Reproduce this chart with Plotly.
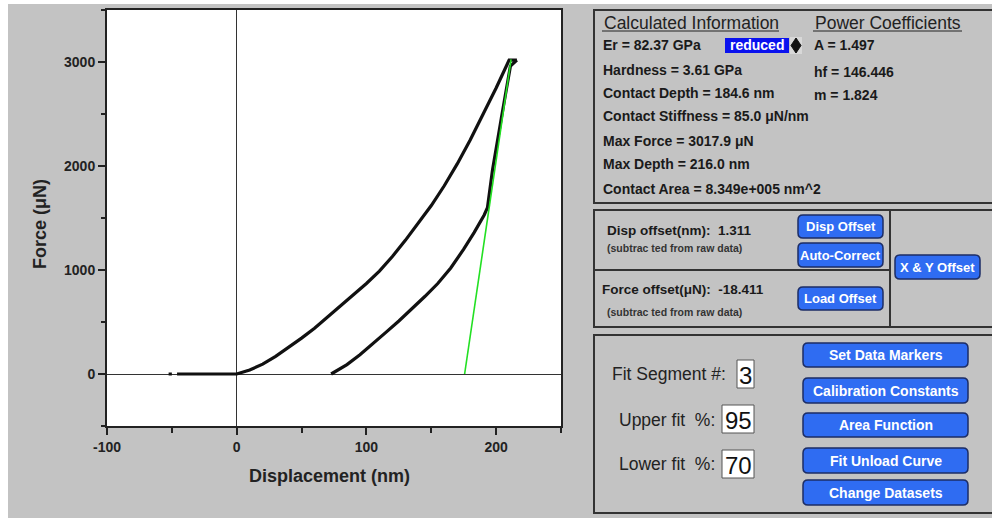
import plotly.graph_objects as go

W, H = 992, 518

# ---------------- data ----------------
pre_x = [-52.5, -50.0]
pre_f = [0, 0]

loading_x = [-46, -20, 0, 10, 20, 30, 40, 50, 60, 70, 80, 90, 100, 110, 120, 130, 140,
             150, 160, 170, 180, 190, 200, 210, 216]
loading_f = [0, 0, 0, 38, 95, 170, 255, 345, 440, 545, 650, 760, 870, 990, 1130, 1285, 1450,
             1620, 1810, 2020, 2250, 2500, 2750, 3018, 3018]

unloading_x = [216, 211, 204, 197.2, 193.3, 190.8, 183, 175, 165, 155, 145, 135, 125,
               115, 105, 95, 85, 78, 72.8]
unloading_f = [3018, 2960, 2460, 1962, 1600, 1529, 1360, 1200, 1020, 870, 745, 625, 510,
               400, 290, 185, 90, 35, 0]

fit_x = [175.7, 211.5]
fit_f = [0, 3025]

x_ticks = [-100, 0, 100, 200]
x_ticklabels = ["-100", "0", "100", "200"]
y_ticks = [0, 1000, 2000, 3000]
y_ticklabels = ["0", "1000", "2000", "3000"]

calc_lines = ["Er = 82.37 GPa", "Hardness = 3.61 GPa", "Contact Depth = 184.6 nm",
              "Contact Stiffness = 85.0 \u03bcN/nm", "Max Force = 3017.9 \u03bcN",
              "Max Depth = 216.0 nm", "Contact Area = 8.349e+005 nm^2"]
power_lines = ["A = 1.497", "hf = 146.446", "m = 1.824"]

# ---------------- figure ----------------
GRAY = "#c3c3c3"
FONT = "Liberation Sans"
NB = "\u00a0"
fig = go.Figure()

fig.add_trace(go.Scatter(x=pre_x, y=pre_f, mode="lines",
                         line=dict(color="#111", width=3), hoverinfo="skip"))
fig.add_trace(go.Scatter(x=loading_x, y=loading_f, mode="lines",
                         line=dict(color="#111", width=3.2), hoverinfo="skip"))
fig.add_trace(go.Scatter(x=unloading_x, y=unloading_f, mode="lines",
                         line=dict(color="#111", width=3.2), hoverinfo="skip"))
fig.add_trace(go.Scatter(x=fit_x, y=fit_f, mode="lines",
                         line=dict(color="#22e022", width=1.6), hoverinfo="skip"))


def px(x):
    return x / W


def py(y):
    return 1 - y / H


shapes = []
annotations = []


def rect(x0, y0, x1, y1, fill=None, line="#333", lw=2):
    shapes.append(dict(type="rect", xref="paper", yref="paper",
                       x0=px(x0), x1=px(x1), y0=py(y1), y1=py(y0),
                       fillcolor=fill if fill else "rgba(0,0,0,0)",
                       line=dict(color=line, width=lw)))


def hline(x0, x1, y, color="#333", lw=2):
    shapes.append(dict(type="line", xref="paper", yref="paper",
                       x0=px(x0), x1=px(x1), y0=py(y), y1=py(y),
                       line=dict(color=color, width=lw)))


def vline(x, y0, y1, color="#333", lw=2):
    shapes.append(dict(type="line", xref="paper", yref="paper",
                       x0=px(x), x1=px(x), y0=py(y0), y1=py(y1),
                       line=dict(color=color, width=lw)))


def text(x, y, s, size=14, bold=True, color="#1a1a1a", anchor="left", angle=0):
    annotations.append(dict(x=px(x), y=py(y), xref="paper", yref="paper",
                            text=s, showarrow=False, xanchor=anchor, yanchor="middle",
                            textangle=angle,
                            font=dict(family=FONT, size=size, color=color,
                                      weight="bold" if bold else "normal")))


def button(x0, y0, x1, y1, label, size=14):
    r = 5
    X0, X1 = px(x0), px(x1)
    Y0, Y1 = py(y1), py(y0)
    rx, ry = r / W, r / H
    path = (f"M {X0+rx},{Y0} L {X1-rx},{Y0} Q {X1},{Y0} {X1},{Y0+ry} "
            f"L {X1},{Y1-ry} Q {X1},{Y1} {X1-rx},{Y1} L {X0+rx},{Y1} "
            f"Q {X0},{Y1} {X0},{Y1-ry} L {X0},{Y0+ry} Q {X0},{Y0} {X0+rx},{Y0} Z")
    shapes.append(dict(type="path", xref="paper", yref="paper", path=path,
                       fillcolor="#2f6cf2", line=dict(color="#1c2d66", width=1.5)))
    text((x0 + x1) / 2, (y0 + y1) / 2, label, size=size, bold=True, color="white",
         anchor="center")


def inputbox(x0, y0, x1, y1, val):
    rect(x0, y0, x1, y1, fill="white", line="#555", lw=1)
    text((x0 + x1) / 2, (y0 + y1) / 2 + 1, val, size=24, bold=False, color="#111",
         anchor="center")


# white outer strip
rect(0, 0, 8, H, fill="white", line="white", lw=0)
rect(0, 0, W, 4, fill="white", line="white", lw=0)

# axis titles
text(329, 476, "Displacement (nm)", size=18, anchor="center", color="#222")
text(40, 224, "Force (\u03bcN)", size=18, anchor="center", color="#222", angle=-90)

# ---- panel 1 ----
rect(594, 10, 996, 203)
text(602, 23, "Calculated Information", size=17.5, bold=False, color="#222")
hline(602, 779, 31, color="#222", lw=1)
text(813, 23, "Power Coefficients", size=17.5, bold=False, color="#222")
hline(813, 962, 31, color="#222", lw=1)
calc_y = [45, 70, 93, 116, 141, 164, 189]
for yy, s in zip(calc_y, calc_lines):
    text(601, yy, s)
power_y = [45, 72, 95]
for yy, s in zip(power_y, power_lines):
    text(812, yy, s)
rect(725, 38, 789, 53, fill="#0a12ee", line="#0a12ee", lw=0)
text(757, 45.5, "reduced", size=14, color="white", anchor="center")
rect(790, 37, 802, 54, fill="#d8d8d8", line="#d8d8d8", lw=0)
shapes.append(dict(type="path", xref="paper", yref="paper",
                   path=f"M {px(796)},{py(38)} L {px(801)},{py(45.5)} L {px(796)},{py(53)} "
                        f"L {px(791)},{py(45.5)} Z",
                   fillcolor="#111", line=dict(color="#111", width=1)))

# ---- panel 2 ----
rect(594, 210, 996, 327)
hline(594, 890, 270)
vline(890, 210, 327)
text(605, 230, f"Disp offset(nm):{NB}{NB}1.311", size=13.5)
text(605, 248, "(subtrac ted from raw data)", size=10.5, color="#333")
text(600, 289, f"Force offset(\u03bcN):{NB}{NB}-18.411", size=13.5)
text(605, 312, "(subtrac ted from raw data)", size=10.5, color="#333")
button(798, 215, 883, 238, "Disp Offset", size=13)
button(798, 243, 883, 267, "Auto-Correct", size=13)
button(798, 287, 883, 310, "Load Offset", size=13)
button(895, 255, 980, 279, "X & Y Offset", size=13)

# ---- panel 3 ----
rect(594, 335, 996, 513)
text(610, 374, "Fit Segment #:", size=17.5, bold=False, color="#222")
inputbox(737, 360, 754, 388, "3")
text(617, 420, f"Upper fit{NB}{NB}%:", size=17.5, bold=False, color="#222")
inputbox(722, 405, 754, 433, "95")
text(617, 464, f"Lower fit{NB}{NB}%:", size=17.5, bold=False, color="#222")
inputbox(722, 450, 754, 478, "70")
button(803, 343, 968, 367, "Set Data Markers")
button(803, 378, 968, 403, "Calibration Constants")
button(803, 413, 968, 437, "Area Function")
button(803, 448, 968, 473, "Fit Unload Curve")
button(803, 480, 968, 505, "Change Datasets")

tickfont = dict(family=FONT, size=14, color="#222", weight="bold")

fig.update_layout(
    width=W, height=H,
    margin=dict(l=0, r=0, t=0, b=0),
    paper_bgcolor=GRAY, plot_bgcolor="white",
    showlegend=False,
    shapes=shapes, annotations=annotations,
    xaxis=dict(domain=[107 / W, 561 / W], range=[-100, 250],
               tickmode="array", tickvals=x_ticks, ticktext=x_ticklabels,
               ticks="outside", ticklen=7, tickwidth=2, tickcolor="#222",
               showline=True, linewidth=2, linecolor="#222", mirror=True,
               zeroline=True, zerolinecolor="#333", zerolinewidth=1.2, showgrid=False,
               minor=dict(dtick=50, ticks="outside", ticklen=5, tickwidth=2, tickcolor="#222"),
               tickfont=tickfont, fixedrange=True, automargin=False),
    yaxis=dict(domain=[1 - 426 / H, 1 - 10 / H], range=[-500, 3500],
               tickmode="array", tickvals=y_ticks, ticktext=y_ticklabels,
               ticks="outside", ticklen=7, tickwidth=2, tickcolor="#222",
               showline=True, linewidth=2, linecolor="#222", mirror=True,
               zeroline=True, zerolinecolor="#333", zerolinewidth=1.2, showgrid=False,
               minor=dict(dtick=500, ticks="outside", ticklen=4, tickwidth=2, tickcolor="#222"),
               tickfont=tickfont, fixedrange=True, automargin=False),
)

fig.write_html("out.html")
